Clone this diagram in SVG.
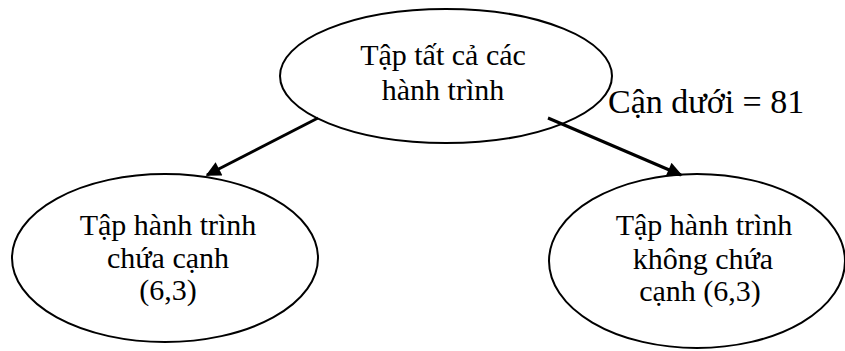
<svg xmlns="http://www.w3.org/2000/svg" width="845" height="351" viewBox="0 0 845 351">
  <defs>
    <style>
      .node ellipse { fill: #ffffff; stroke: #000000; stroke-width: 2; }
      .node text, .label { font-family: "Liberation Serif", "Times New Roman", serif; font-size: 30px; fill: #000000; text-anchor: middle; }
      .label { font-size: 34px; text-anchor: start; }
      .edge { stroke: #000000; stroke-width: 3; fill: none; marker-end: url(#arrow); }
    </style>
    <marker id="arrow" viewBox="0 0 10 10" refX="9" refY="5" markerWidth="5.5" markerHeight="5" markerUnits="strokeWidth" orient="auto">
      <path d="M0,0 L10,5 L0,10 z" fill="#000000"/>
    </marker>
  </defs>

  <rect width="845" height="351" fill="#ffffff"/>

  <!-- root: all tours -->
  <g id="node-all" class="node">
    <ellipse cx="446" cy="76" rx="166" ry="67"/>
    <text x="443" y="65">Tập tất cả các</text>
    <text x="443" y="100">hành trình</text>
  </g>

  <!-- tours containing edge (6,3) -->
  <g id="node-with" class="node">
    <ellipse cx="165" cy="258" rx="153" ry="84"/>
    <text x="168" y="235">Tập hành trình</text>
    <text x="168" y="268">chứa cạnh</text>
    <text x="168" y="300">(6,3)</text>
  </g>

  <!-- tours without edge (6,3) -->
  <g id="node-without" class="node">
    <ellipse cx="697" cy="261" rx="148" ry="87"/>
    <text x="704" y="235">Tập hành trình</text>
    <text x="703" y="269">không chứa</text>
    <text x="700" y="301">cạnh (6,3)</text>
  </g>

  <text class="label" x="608" y="113">Cận dưới = 81</text>

  <g id="connectors">
    <line class="edge" x1="318" y1="118" x2="207" y2="175"/>
    <line class="edge" x1="548" y1="118" x2="681" y2="175"/>
  </g>
</svg>
